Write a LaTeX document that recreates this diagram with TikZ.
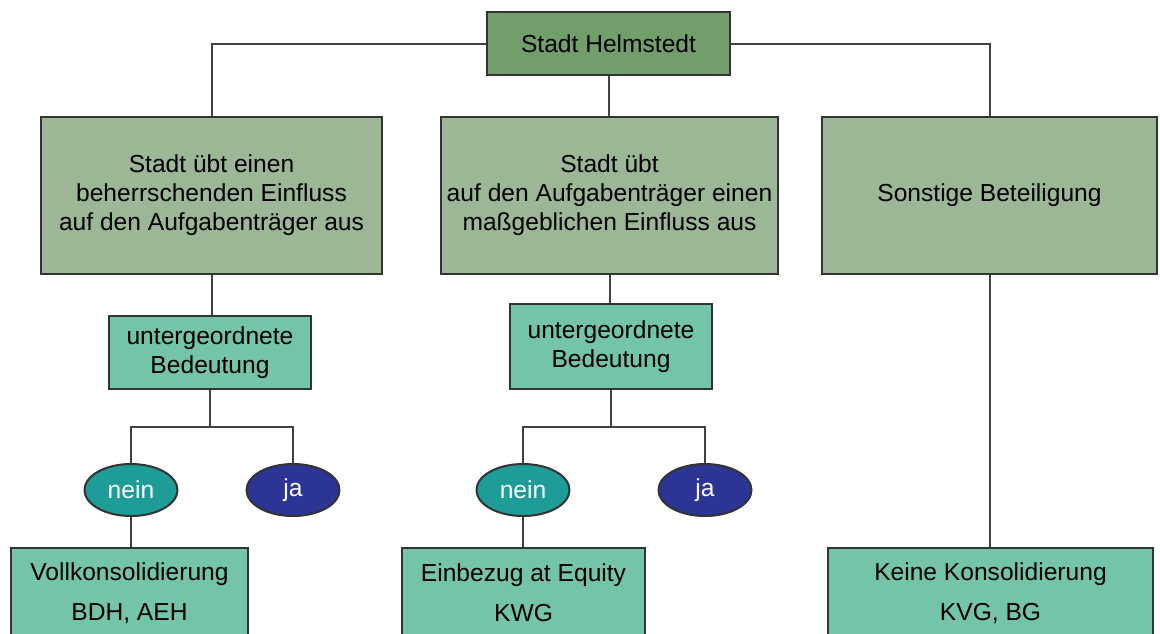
\documentclass[tikz,border=0pt]{standalone}
\usepackage{fontspec}
\setmainfont{Liberation Sans}
\usetikzlibrary{shapes.geometric}
\definecolor{topgreen}{HTML}{729E6C}
\definecolor{boxgreen}{HTML}{9CB795}
\definecolor{subteal}{HTML}{74C4A9}
\definecolor{neinteal}{HTML}{1E9C97}
\definecolor{jablue}{HTML}{2C3494}
\tikzset{
  base/.style={draw=black!80, line width=1pt, align=center, inner sep=2pt,
    font=\fontsize{12.3}{14.5}\selectfont},
  topbox/.style={base, rectangle, fill=topgreen, minimum width=121.5pt, minimum height=31.5pt},
  mainbox/.style={base, rectangle, fill=boxgreen, minimum height=78.5pt},
  subbox/.style={base, rectangle, fill=subteal, minimum width=101pt},
  resbox/.style={base, rectangle, fill=subteal, minimum height=45pt},
  answer/.style={base, ellipse, text=white, minimum width=46.5pt, minimum height=26pt},
  link/.style={draw=black!75, line width=1pt}
}
\begin{document}
\begin{tikzpicture}[x=0.5pt, y=-0.5pt]
  \useasboundingbox (0,0) rectangle (1160,633);
  \clip (0,0) rectangle (1160,633);

  %%%%% boxes %%%%%
  \node[topbox] (top) at (608.5, 43.5) {Stadt Helmstedt};

  \node[mainbox, minimum width=170.5pt] (b1) at (211.5, 195.5)
    {Stadt übt einen\\beherrschenden Einfluss\\auf den Aufgabenträger aus};
  \node[mainbox, minimum width=168.5pt] (b2) at (609.5, 195.5)
    {Stadt übt\\auf den Aufgabenträger einen\\maßgeblichen Einfluss aus};
  \node[mainbox, minimum width=167.5pt] (b3) at (989.5, 195.5) {Sonstige Beteiligung};

  \node[subbox, minimum height=36.5pt] (s1) at (210, 352.5) {untergeordnete\\Bedeutung};
  \node[subbox, minimum height=42.5pt] (s2) at (611, 346.5) {untergeordnete\\Bedeutung};

  \node[answer, fill=neinteal] (n1) at (131, 490) {nein};
  \node[answer, fill=jablue] (j1) at (293, 490) {ja};
  \node[answer, fill=neinteal] (n2) at (523, 490) {nein};
  \node[answer, fill=jablue] (j2) at (705, 490) {ja};

  \node[resbox, minimum width=118.5pt] (r1) at (129.5, 593)
    {Vollkonsolidierung\\[5.5pt]BDH, AEH};
  \node[resbox, minimum width=121.5pt] (r2) at (523.5, 593)
    {Einbezug at Equity\\[5.5pt]KWG};
  \node[resbox, minimum width=162.5pt] (r3) at (990.5, 593)
    {Keine Konsolidierung\\[5.5pt]KVG, BG};

  %%%%% connectors %%%%%
  \coordinate (f1) at (210, 427);
  \coordinate (f2) at (611, 427);

  \draw[link] (top.west) -| (b1.north);
  \draw[link] (top.east) -| (b3.north);
  \draw[link] (top.south) -- (top.south |- b2.north);

  \draw[link] (b1.south) -- (b1.south |- s1.north);
  \draw[link] (b2.south) -- (b2.south |- s2.north);
  \draw[link] (b3.south) -- (b3.south |- r3.north);

  \draw[link] (s1.south) -- (f1);
  \draw[link] (n1.north) |- (f1) -| (j1.north);
  \draw[link] (s2.south) -- (f2);
  \draw[link] (n2.north) |- (f2) -| (j2.north);

  \draw[link] (n1.south) -- (n1.south |- r1.north);
  \draw[link] (n2.south) -- (n2.south |- r2.north);
\end{tikzpicture}
\end{document}
